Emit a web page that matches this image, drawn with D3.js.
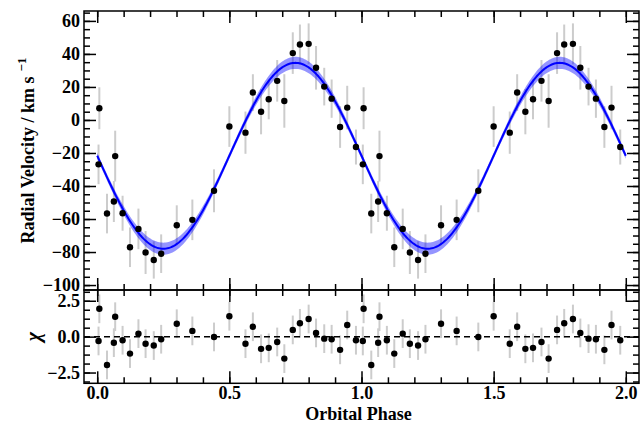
<!DOCTYPE html>
<html>
<head>
<meta charset="utf-8">
<script src="https://cdn.jsdelivr.net/npm/d3@7"></script>
<style>
  body { margin: 0; background: #fff; }
  svg text { font-family: "Liberation Serif", "DejaVu Serif", serif; font-weight: bold; }
</style>
</head>
<body>
<svg id="chart" width="641" height="426"></svg>
<script>
// measured radial velocities, folded on the orbital phase (shown twice)
var phases = [0.005, 0.008, 0.037, 0.063, 0.068, 0.096, 0.124, 0.156, 0.183, 0.214,
              0.242, 0.301, 0.360, 0.442, 0.500, 0.561, 0.589, 0.620, 0.649, 0.681,
              0.708, 0.740, 0.767, 0.800, 0.828, 0.859, 0.887, 0.919, 0.946, 0.979];
var velocities = [-26.9, 7.1, -56.7, -49.4, -21.9, -56.5, -77.1, -66.0, -80.3, -84.8,
                  -81.0, -63.8, -60.5, -42.9, -4.0, -7.7, 16.6, 5.0, 12.5, 23.7,
                  11.5, 40.5, 45.7, 46.1, 31.6, 20.2, 12.9, -4.3, 7.5, -16.4];
var velErrors = [12.0, 12.7, 12.0, 12.4, 15.4, 10.6, 12.0, 12.3, 13.0, 11.3,
                 11.7, 12.1, 12.3, 13.0, 12.3, 12.8, 11.1, 13.7, 12.1, 12.6,
                 16.2, 12.6, 12.1, 12.4, 13.2, 11.4, 11.6, 12.6, 13.2, 10.6];
var residuals = [-0.30, 1.94, -1.97, -0.42, 1.39, -0.25, -1.18, 0.21, -0.49, -0.62,
                 -0.18, 0.90, 0.40, -0.02, 1.42, -0.49, 0.69, -0.85, -0.78, -0.37,
                 -1.53, 0.47, 0.93, 1.23, 0.26, -0.14, -0.18, -0.92, 0.81, -0.25];
var cycles = [0, 1];

// sinusoidal orbit fit: v = gamma - K sin(2 pi phase)
var gamma = -21.7, semiAmp = 56.3;
var gammaErr = 1.8, semiAmpErr = 3.2;

var velTicks = [-100, -80, -60, -40, -20, 0, 20, 40, 60];
var chiTicks = [-2.5, 0, 2.5];
var phaseTicks = [0, 0.5, 1, 1.5, 2];

// NB: "top" is taken by window.top, so prefix everything
var xLeft = 84, xRight = 639, yTop = 11, yMid = 290, yBot = 383.3;

var svg = d3.select("#chart");

var x = d3.scaleLinear().domain([-0.05, 2.05]).range([xLeft, xRight]);
var yV = d3.scaleLinear().domain([-103, 66]).range([yMid, yTop]);
var yC = d3.scaleLinear().domain([-3.25, 3.25]).range([yBot, yMid]);

var points = [];
cycles.forEach(function(c) {
  phases.forEach(function(p, i) {
    points.push({ph: p + c, v: velocities[i], e: velErrors[i], chi: residuals[i]});
  });
});

function model(ph) { return gamma - semiAmp * Math.sin(2 * Math.PI * ph); }
function modelErr(ph) {
  var s = Math.sin(2 * Math.PI * ph);
  return Math.sqrt(gammaErr * gammaErr + semiAmpErr * semiAmpErr * s * s);
}
var curvePh = d3.range(0, 2.0001, 0.005);

// error bars
svg.append("g").selectAll("line").data(points).join("line")
  .attr("x1", function(d) { return x(d.ph); }).attr("x2", function(d) { return x(d.ph); })
  .attr("y1", function(d) { return yV(d.v - d.e); }).attr("y2", function(d) { return yV(d.v + d.e); })
  .attr("stroke", "#cccccc").attr("stroke-width", 2);

svg.append("g").selectAll("line").data(points).join("line")
  .attr("x1", function(d) { return x(d.ph); }).attr("x2", function(d) { return x(d.ph); })
  .attr("y1", function(d) { return yC(d.chi - 1); }).attr("y2", function(d) { return yC(d.chi + 1); })
  .attr("stroke", "#cccccc").attr("stroke-width", 2);

// fit band + line
svg.append("path").datum(curvePh)
  .attr("d", d3.area()
    .x(function(p) { return x(p); })
    .y0(function(p) { return yV(model(p) - modelErr(p)); })
    .y1(function(p) { return yV(model(p) + modelErr(p)); }))
  .attr("fill", "#0000ff").attr("fill-opacity", 0.42);

svg.append("path").datum(curvePh)
  .attr("d", d3.line().x(function(p) { return x(p); }).y(function(p) { return yV(model(p)); }))
  .attr("fill", "none").attr("stroke", "#0000ff").attr("stroke-width", 2);

// zero line on residuals
svg.append("line")
  .attr("x1", xLeft).attr("x2", xRight).attr("y1", yC(0)).attr("y2", yC(0))
  .attr("stroke", "#000").attr("stroke-width", 1.5).attr("stroke-dasharray", "6,4");

// points
svg.append("g").selectAll("circle").data(points).join("circle")
  .attr("cx", function(d) { return x(d.ph); }).attr("cy", function(d) { return yV(d.v); })
  .attr("r", 3.2).attr("fill", "#000");
svg.append("g").selectAll("circle").data(points).join("circle")
  .attr("cx", function(d) { return x(d.ph); }).attr("cy", function(d) { return yC(d.chi); })
  .attr("r", 3.2).attr("fill", "#000");

// axes: ticks inward on every side, minors unlabeled
var minorV = d3.range(-100, 66, 5), minorC = d3.range(-3.125, 3.2, 0.625), minorX = d3.range(0, 2.05, 0.1);

function ticks(axisFn, scale, vals, size, pos, fmt, pad) {
  var a = axisFn(scale).tickValues(vals).tickSizeInner(size).tickSizeOuter(0);
  a.tickFormat(fmt || "");
  if (pad != null) a.tickPadding(pad);
  var g = svg.append("g").attr("transform", pos).call(a);
  g.select(".domain").remove();
  g.selectAll(".tick line").attr("stroke-width", 1.5);
  g.selectAll("text").attr("font-size", 18).attr("fill", "#000")
    .attr("font-family", "Liberation Serif, DejaVu Serif, serif").attr("font-weight", "bold");
  return g;
}

// velocity panel
ticks(d3.axisLeft, yV, velTicks, -12, "translate(" + xLeft + ",0)", d3.format("d"), 4);
ticks(d3.axisLeft, yV, minorV, -6, "translate(" + xLeft + ",0)");
ticks(d3.axisRight, yV, velTicks, -12, "translate(" + xRight + ",0)");
ticks(d3.axisRight, yV, minorV, -6, "translate(" + xRight + ",0)");
ticks(d3.axisTop, x, phaseTicks, -12, "translate(0," + yTop + ")");
ticks(d3.axisTop, x, minorX, -6, "translate(0," + yTop + ")");
ticks(d3.axisBottom, x, phaseTicks, -12, "translate(0," + yMid + ")");
ticks(d3.axisBottom, x, minorX, -6, "translate(0," + yMid + ")");

// residual panel
ticks(d3.axisLeft, yC, chiTicks, -12, "translate(" + xLeft + ",0)", d3.format(".1f"), 4);
ticks(d3.axisLeft, yC, minorC, -6, "translate(" + xLeft + ",0)");
ticks(d3.axisRight, yC, chiTicks, -12, "translate(" + xRight + ",0)");
ticks(d3.axisRight, yC, minorC, -6, "translate(" + xRight + ",0)");
ticks(d3.axisTop, x, phaseTicks, -12, "translate(0," + yMid + ")");
ticks(d3.axisTop, x, minorX, -6, "translate(0," + yMid + ")");
ticks(d3.axisBottom, x, phaseTicks, -12, "translate(0," + yBot + ")", d3.format(".1f"), 3);
ticks(d3.axisBottom, x, minorX, -6, "translate(0," + yBot + ")");

// frames
svg.append("rect").attr("x", xLeft).attr("y", yTop).attr("width", xRight - xLeft).attr("height", yMid - yTop)
  .attr("fill", "none").attr("stroke", "#000").attr("stroke-width", 1.5);
svg.append("rect").attr("x", xLeft).attr("y", yMid).attr("width", xRight - xLeft).attr("height", yBot - yMid)
  .attr("fill", "none").attr("stroke", "#000").attr("stroke-width", 1.5);

// labels
var yl = svg.append("text")
  .attr("transform", "translate(34," + ((yTop + yMid) / 2) + ") rotate(-90)")
  .attr("text-anchor", "middle").attr("font-size", 18);
yl.append("tspan").text("Radial Velocity / km s");
yl.append("tspan").attr("dx", 5).attr("dy", -8).attr("font-size", 13).text("\u22121");

svg.append("text")
  .attr("transform", "translate(40," + yC(0) + ") rotate(-90)")
  .attr("text-anchor", "middle").attr("font-size", 20).attr("font-style", "italic")
  .text("\u03c7");

svg.append("text").attr("x", (xLeft + xRight) / 2 - 3).attr("y", 420)
  .attr("text-anchor", "middle").attr("font-size", 18).text("Orbital Phase");
</script>
</body>
</html>
